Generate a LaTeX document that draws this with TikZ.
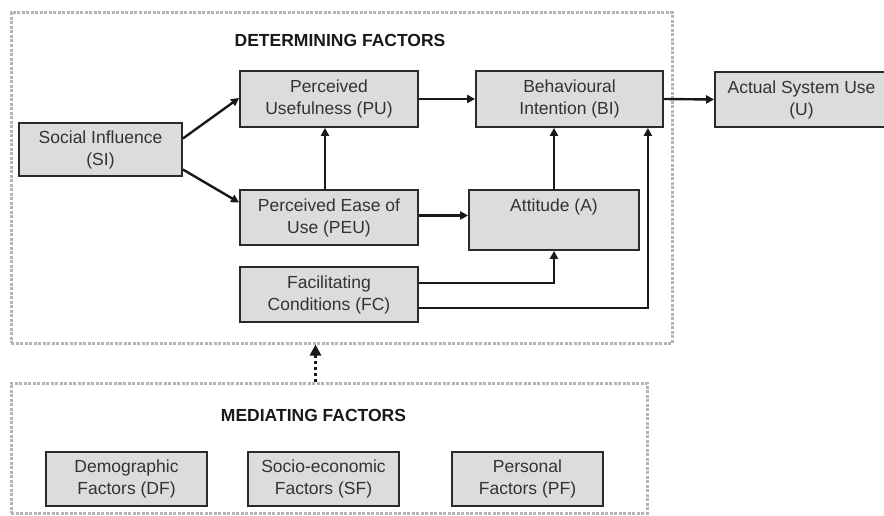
\documentclass[tikz,border=0pt]{standalone}
\usepackage{fontspec}
\setmainfont{Liberation Sans}
\usetikzlibrary{arrows.meta,calc}
\definecolor{boxfill}{HTML}{DCDCDC}
\definecolor{boxline}{HTML}{2A2A2A}
\definecolor{txt}{HTML}{333333}
\definecolor{groupline}{HTML}{B4B4B4}
\tikzset{
  factor/.style={draw=boxline, line width=1.8pt, fill=boxfill, rectangle,
    align=center, inner sep=0pt, text=txt,
    font=\fontsize{17.5}{22}\selectfont},
  groupbox/.style={draw=groupline, line width=3pt, dash pattern=on 3pt off 1.5pt,
    rectangle, inner sep=0pt},
  heading/.style={font=\fontsize{17.5}{22}\selectfont\bfseries, text=black!90, inner sep=0pt},
  link/.style={line width=2.4pt, draw=black!90,
    -{Triangle[length=8pt,width=8pt]}},
  influence/.style={line width=3pt, draw=black!90, dash pattern=on 3pt off 3pt,
    -{Triangle[length=11pt,width=11pt]}}
}
\begin{document}
\begin{tikzpicture}[x=1pt,y=-1pt]
\useasboundingbox (0,0) rectangle (884,516);

% group frames
\node[groupbox, minimum width=661pt, minimum height=330pt] (det) at (341.5,178) {};
\node[groupbox, minimum width=636pt, minimum height=130pt] (med) at (329,448) {};

\node[heading] (dettitle) at (340,40) {DETERMINING FACTORS};
\node[heading] (medtitle) at (313.5,415) {MEDIATING FACTORS};

% determining factors
\node[factor, minimum width=163pt, minimum height=53pt] (SI) at (100.5,149.5) {Social Influence\\(SI)};
\node[factor, minimum width=178pt, minimum height=56pt] (PU) at (329,99) {Perceived\\Usefulness (PU)};
\node[factor, minimum width=187pt, minimum height=56pt] (BI) at (569.5,99) {Behavioural\\Intention (BI)};
\node[factor, minimum width=173pt, minimum height=55pt] (U) at (801.5,99.5) {Actual System Use\\(U)};
\node[factor, minimum width=178pt, minimum height=55pt] (PEU) at (329,217.5) {Perceived Ease of\\Use (PEU)};
\node[factor, minimum width=178pt, minimum height=55pt] (FC) at (329,294.5) {Facilitating\\Conditions (FC)};
\node[factor, minimum width=170pt, minimum height=60pt] (A) at (554,220) {};
\node[font=\fontsize{17.5}{22}\selectfont, text=txt, anchor=north, inner sep=0pt] (Atext) at ($(A.north)+(0,10)$) {Attitude (A)};

% mediating factors
\node[factor, minimum width=161pt, minimum height=54pt] (DF) at (126.5,479) {Demographic\\Factors (DF)};
\node[factor, minimum width=151pt, minimum height=54pt] (SF) at (323.5,479) {Socio-economic\\Factors (SF)};
\node[factor, minimum width=151pt, minimum height=54pt] (PF) at (527.5,479) {Personal\\Factors (PF)};

% relations
\draw[link] ($(SI.east)+(0,-11)$) -- ($(PU.west)+(0,-1)$);
\draw[link] ($(SI.east)+(0,20)$) -- ($(PEU.west)+(0,-15)$);
\draw[link] (PU.east) -- (BI.west);
\draw[link] (BI.east) -- (U.west);
\draw[link] ($(PEU.north)+(-4,0)$) -- ($(PU.south)+(-4,0)$);
\coordinate (peuOut) at ($(PEU.east)+(0,-2)$);
\draw[link] (peuOut) -- (peuOut -| A.west);
\draw[link] (A.north) -- (A.north |- BI.south);
\coordinate (fcA) at ($(FC.east)+(0,-11.5)$);
\draw[link] (fcA) -| (A.south);
\coordinate (fcB) at ($(FC.east)+(0,13.5)$);
\coordinate (biIn) at ($(BI.south east)+(-16,0)$);
\draw[link] (fcB) -| (biIn);

% mediating influence
\coordinate (medTop) at ($(med.north west)+(306,0)$);
\coordinate (detBottom) at ($(det.south west)+(306,0)$);
\draw[influence] (medTop) -- (detBottom);
\end{tikzpicture}
\end{document}
